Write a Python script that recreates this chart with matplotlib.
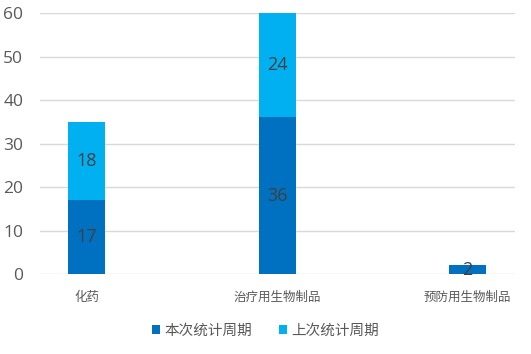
import matplotlib
matplotlib.use('Agg')
import matplotlib.pyplot as plt
import numpy as np

plt.rcParams['font.family'] = ['Noto Sans CJK SC', 'DejaVu Sans']

categories = ['化药', '治疗用生物制品', '预防用生物制品']
current = [17, 36, 2]
previous = [18, 24, 0]
series_names = ['本次统计周期', '上次统计周期']
yticks = [0, 10, 20, 30, 40, 50, 60]

c_cur = '#0070C0'
c_prev = '#00B0F0'
text_c = '#404040'
num_font = ['Open Sans', 'Noto Sans CJK SC']

fig = plt.figure(figsize=(5.31, 3.54), dpi=100)
ax = fig.add_axes([0.0753, 0.226, 0.895, 0.737])

x = np.arange(len(categories))
w = 0.195
b1 = ax.bar(x, current, w, color=c_cur, label=series_names[0], zorder=2)
b2 = ax.bar(x, previous, w, bottom=current, color=c_prev, label=series_names[1], zorder=2)

for i in range(len(categories)):
    if current[i]:
        ax.text(x[i], current[i] / 2, str(current[i]), ha='center', va='center',
                fontsize=13, color=text_c, zorder=3, family=num_font)
    if previous[i]:
        ax.text(x[i], current[i] + previous[i] / 2, str(previous[i]), ha='center',
                va='center', fontsize=13, color=text_c, zorder=3, family=num_font)

ax.set_xlim(-0.247, 2.253)
ax.set_ylim(0, 60)
ax.set_yticks(yticks)
ax.set_yticklabels([str(v) for v in yticks], family=num_font)
ax.set_xticks(x)
ax.set_xticklabels(categories, fontsize=9, color='#595959')
ax.tick_params(axis='y', labelsize=12.5, labelcolor='#595959', length=0, pad=12)
ax.tick_params(axis='x', length=0, pad=12)
ax.yaxis.grid(True, color='#d9d9d9', linewidth=1, zorder=0)
ax.set_axisbelow(True)
for s in ax.spines.values():
    s.set_visible(False)

leg = fig.legend(handles=[b1, b2], loc='center', bbox_to_anchor=(0.5, 0.065), ncol=2,
                 frameon=False, fontsize=10.5, handlelength=0.6, handleheight=0.6,
                 handletextpad=0.3, columnspacing=1.8)
for t in leg.get_texts():
    t.set_color('#595959')

fig.savefig('out.png', dpi=100)
